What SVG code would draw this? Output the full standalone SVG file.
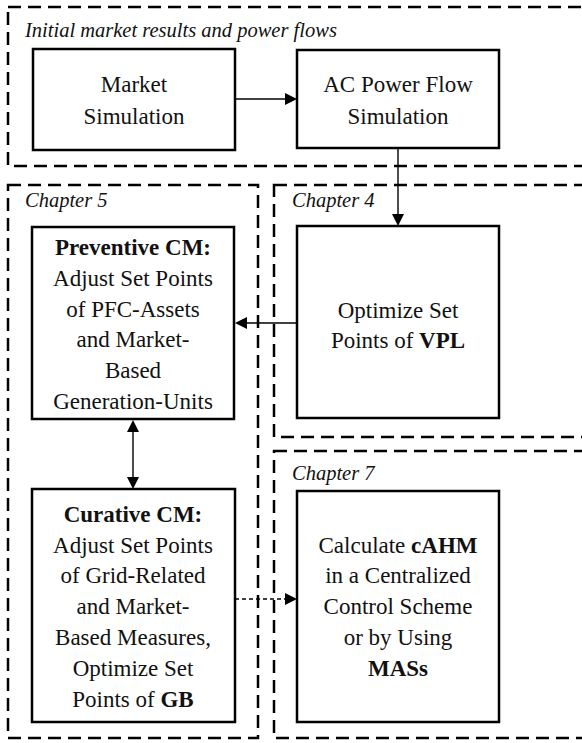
<svg xmlns="http://www.w3.org/2000/svg" width="582" height="743" viewBox="0 0 582 743" font-family="Liberation Serif">
<style>
.frame{fill:none;stroke:#000;stroke-width:2.5;stroke-dasharray:13 7}
.box{fill:#fff;stroke:#000;stroke-width:2.5}
.t{font-size:23px;text-anchor:middle;fill:#111}
.cap{font-size:20.5px;font-style:italic;fill:#111}
.b{font-weight:bold}
.ln{fill:none;stroke:#000;stroke-width:1.4}
.dl{fill:none;stroke:#000;stroke-width:1.4;stroke-dasharray:4 3}
.head{fill:#000}
</style>
<rect width="582" height="743" fill="#fff"/>
<g id="frames">
<rect class="frame" x="8" y="7" width="590" height="159"/>
<rect class="frame" x="8" y="185" width="250" height="553"/>
<rect class="frame" x="274" y="185" width="324" height="252"/>
<rect class="frame" x="274" y="451" width="324" height="287"/>
<text class="cap" x="25" y="37" font-family="Liberation Serif">Initial market results and power flows</text>
<text class="cap" x="25" y="207" font-family="Liberation Serif">Chapter 5</text>
<text class="cap" x="292" y="207" font-family="Liberation Serif">Chapter 4</text>
<text class="cap" x="292" y="480" font-family="Liberation Serif">Chapter 7</text>
</g>
<g id="connectors">
<line class="ln" x1="235" y1="99" x2="286" y2="99"/>
<polygon class="head" points="297,99 285,93 285,105"/>
<line class="ln" x1="398" y1="149" x2="398" y2="215"/>
<polygon class="head" points="398,226 392,214 404,214"/>
<line class="ln" x1="297" y1="323" x2="245" y2="323"/>
<polygon class="head" points="235,323 247,317 247,329"/>
<line class="ln" x1="133" y1="430" x2="133" y2="478"/>
<polygon class="head" points="133,420 127,432 139,432"/>
<polygon class="head" points="133,489 127,477 139,477"/>
<line class="dl" x1="235" y1="599" x2="286" y2="599"/>
<polygon class="head" points="297,599 285,593 285,605"/>
</g>
<g id="market">
<rect class="box" x="33" y="49" width="202" height="101"/>
<text class="t" x="134" y="92" font-family="Liberation Serif">Market</text>
<text class="t" x="134" y="124" font-family="Liberation Serif">Simulation</text>
</g>
<g id="acpf">
<rect class="box" x="297" y="50" width="202" height="98"/>
<text class="t" x="398" y="92" font-family="Liberation Serif">AC Power Flow</text>
<text class="t" x="398" y="124" font-family="Liberation Serif">Simulation</text>
</g>
<g id="preventive">
<rect class="box" x="32" y="227" width="202" height="192"/>
<text class="t b" x="133" y="255" font-family="Liberation Serif">Preventive CM:</text>
<text class="t" x="133" y="286" font-family="Liberation Serif">Adjust Set Points</text>
<text class="t" x="133" y="317" font-family="Liberation Serif">of PFC-Assets</text>
<text class="t" x="133" y="347" font-family="Liberation Serif">and Market-</text>
<text class="t" x="133" y="378" font-family="Liberation Serif">Based</text>
<text class="t" x="133" y="409" font-family="Liberation Serif">Generation-Units</text>
</g>
<g id="vpl">
<rect class="box" x="297" y="226" width="202" height="192"/>
<text class="t" x="398" y="318" font-family="Liberation Serif">Optimize Set</text>
<text class="t" x="398" y="348" font-family="Liberation Serif">Points of <tspan class="b">VPL</tspan></text>
</g>
<g id="curative">
<rect class="box" x="32" y="489" width="203" height="233"/>
<text class="t b" x="133" y="522" font-family="Liberation Serif">Curative CM:</text>
<text class="t" x="133" y="553" font-family="Liberation Serif">Adjust Set Points</text>
<text class="t" x="133" y="583" font-family="Liberation Serif">of Grid-Related</text>
<text class="t" x="133" y="614" font-family="Liberation Serif">and Market-</text>
<text class="t" x="133" y="645" font-family="Liberation Serif">Based Measures,</text>
<text class="t" x="133" y="676" font-family="Liberation Serif">Optimize Set</text>
<text class="t" x="133" y="707" font-family="Liberation Serif">Points of <tspan class="b">GB</tspan></text>
</g>
<g id="cahm">
<rect class="box" x="297" y="491" width="202" height="231"/>
<text class="t" x="398" y="553" font-family="Liberation Serif">Calculate <tspan class="b">cAHM</tspan></text>
<text class="t" x="398" y="583" font-family="Liberation Serif">in a Centralized</text>
<text class="t" x="398" y="614" font-family="Liberation Serif">Control Scheme</text>
<text class="t" x="398" y="645" font-family="Liberation Serif">or by Using</text>
<text class="t b" x="398" y="676" font-family="Liberation Serif">MASs</text>
</g>
</svg>
